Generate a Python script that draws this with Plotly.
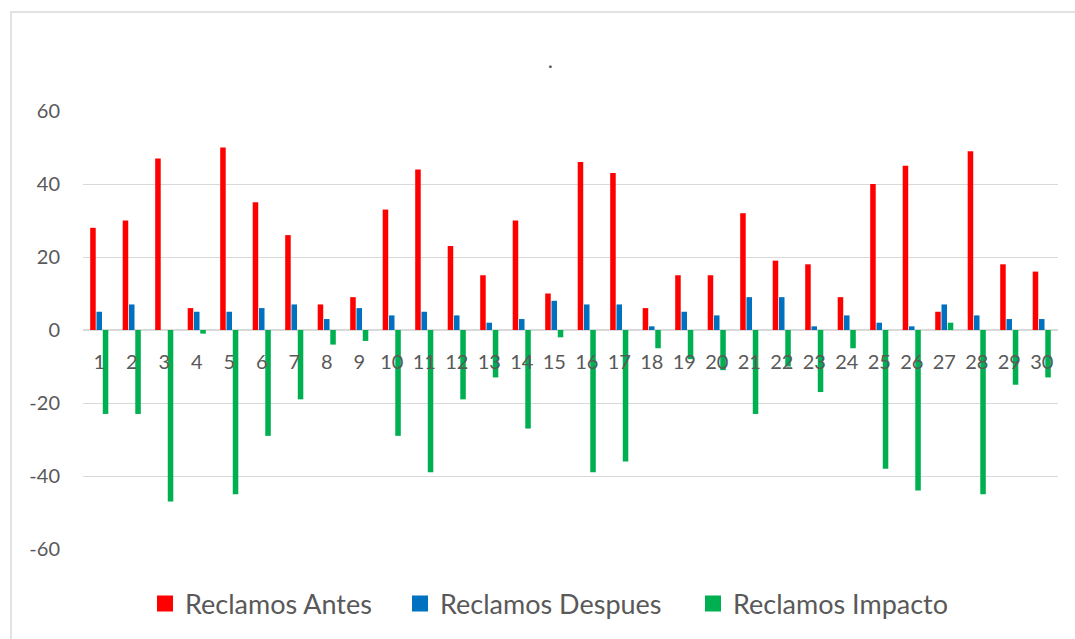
import plotly.graph_objects as go

# Daily complaint counts before/after and their net change
dias = [str(d) for d in range(1, 31)]
reclamos_antes = [28, 30, 47, 6, 50, 35, 26, 7, 9, 33, 44, 23, 15, 30, 10,
                  46, 43, 6, 15, 15, 32, 19, 18, 9, 40, 45, 5, 49, 18, 16]
reclamos_despues = [5, 7, 0, 5, 5, 6, 7, 3, 6, 4, 5, 4, 2, 3, 8,
                    7, 7, 1, 5, 4, 9, 9, 1, 4, 2, 1, 7, 4, 3, 3]
reclamos_impacto = [-23, -23, -47, -1, -45, -29, -19, -4, -3, -29, -39, -19, -13, -27, -2,
                    -39, -36, -5, -8, -11, -23, -10, -17, -5, -38, -44, 2, -45, -15, -13]

series_names = ["Reclamos Antes", "Reclamos Despues", "Reclamos Impacto"]
series_colors = ["#FF0000", "#0070C0", "#00B050"]

y_ticks = [-60, -40, -20, 0, 20, 40, 60]
y_tick_text = ["-60", "-40", "-20", "0", "20", "40", "60"]

FONT = "Lato"
TEXT = "#595959"
GRID = "#d9d9d9"

# plot-area geometry in pixels (used to place legends and the outer frame)
L, R, T, B = 83, 17, 111, 90
PW, PH = 1075 - L - R, 639 - T - B


def px_x(px):
    return (px - L) / PW


def px_y(py):
    return (639 - B - py) / PH


fig = go.Figure()
for name, vals, col in zip(series_names,
                           [reclamos_antes, reclamos_despues, reclamos_impacto],
                           series_colors):
    fig.add_trace(go.Bar(x=dias, y=vals, name=name, showlegend=False,
                         marker=dict(color=col, line=dict(width=0))))

# legend entries with large square swatches, one legend box per series
legend_ids = ["legend", "legend2", "legend3"]
legend_left = [145, 400, 693]
for name, col, lid in zip(series_names, series_colors, legend_ids):
    fig.add_trace(go.Scatter(x=[None], y=[None], mode="markers", name=name,
                             legend=lid, showlegend=True,
                             marker=dict(symbol="square", size=17, color=col)))

legend_style = dict(orientation="h", yanchor="middle", xanchor="left",
                    font=dict(family=FONT, size=27, color=TEXT),
                    bgcolor="rgba(0,0,0,0)", itemwidth=30)

fig.update_layout(
    width=1075, height=639,
    margin=dict(l=L, r=R, t=T, b=B, autoexpand=False),
    paper_bgcolor="white", plot_bgcolor="white",
    barmode="group", bargap=0.42, bargroupgap=0.12,
    title=dict(text=".", x=0.512, xanchor="center", y=0.905, yanchor="middle",
               font=dict(family=FONT, size=22, color=TEXT)),
    font=dict(family=FONT, color=TEXT),
    legend=dict(x=px_x(legend_left[0]), y=px_y(604), **legend_style),
    legend2=dict(x=px_x(legend_left[1]), y=px_y(604), **legend_style),
    legend3=dict(x=px_x(legend_left[2]), y=px_y(604), **legend_style),
    xaxis=dict(type="category", showgrid=False, ticks="", showline=False,
               anchor="free", position=0.5,
               tickfont=dict(family=FONT, size=20, color=TEXT),
               ticklabelstandoff=18),
    yaxis=dict(range=[-60, 60], tickvals=y_ticks, ticktext=y_tick_text,
               showgrid=True, gridcolor=GRID,
               gridwidth=1, zeroline=True, zerolinecolor=GRID, zerolinewidth=1.5,
               showline=False, ticks="",
               tickfont=dict(family=FONT, size=20, color=TEXT),
               ticklabelstandoff=22),
    shapes=[dict(type="rect", xref="paper", yref="paper",
                 x0=px_x(11), x1=px_x(1090), y0=px_y(650), y1=px_y(12),
                 line=dict(color=GRID, width=1.5), fillcolor="rgba(0,0,0,0)",
                 layer="below")],
)

fig.write_html("out.html")
